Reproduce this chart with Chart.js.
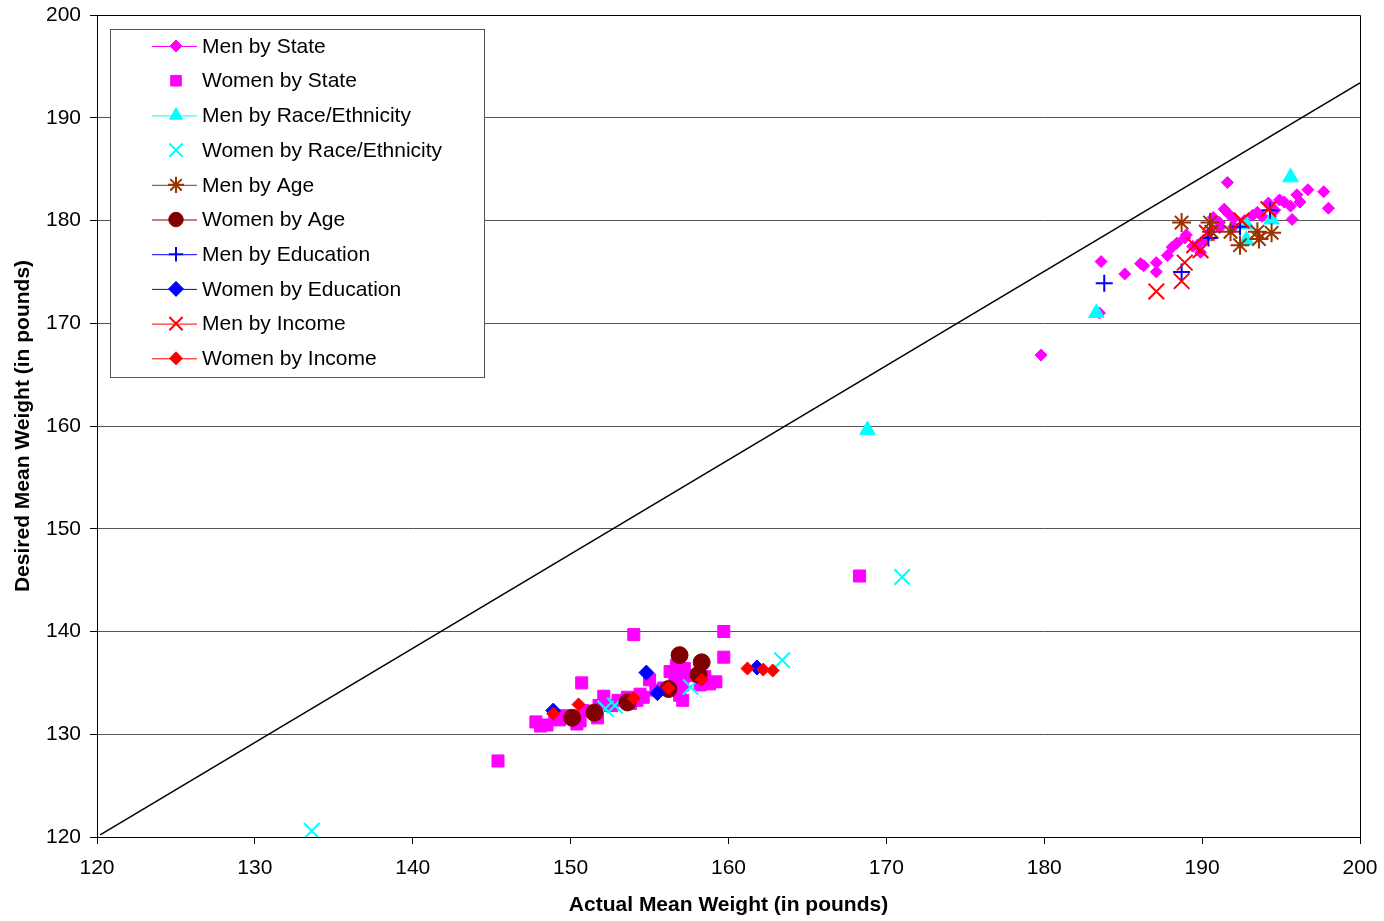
<!DOCTYPE html>
<html>
<head>
<meta charset="utf-8">
<script src="https://cdn.jsdelivr.net/npm/chart.js@4.4.1/dist/chart.umd.min.js"></script>
<style>
  html, body { margin: 0; padding: 0; background: #fff; }
  #wrap { width: 1384px; height: 921px; }
</style>
</head>
<body>
<div id="wrap"><canvas id="weightChart" width="1384" height="921"></canvas></div>
<script>
// du lieu doc tu hinh
const menStateX = [179.8, 183.6, 183.5, 185.1, 186.1, 186.3, 187.1, 187.1, 187.8, 188.1, 188.4, 189.0, 189.7, 189.9, 190.1, 190.5, 190.7, 191.1, 191.1, 191.4, 191.6, 192.0, 193.2, 193.5, 193.8, 194.2, 194.9, 195.2, 195.7, 196.0, 196.2, 196.7, 197.7, 198.0, 195.6, 194.6, 192.7, 192.0, 191.7, 188.9, 189.4];
const menStateY = [166.9, 176.0, 171.0, 174.8, 175.8, 175.6, 175.9, 175.0, 176.6, 177.4, 177.8, 178.6, 177.6, 176.9, 178.1, 178.9, 180.3, 179.8, 179.3, 181.1, 183.7, 179.4, 180.5, 180.8, 180.4, 181.7, 182.0, 181.8, 180.1, 182.5, 181.8, 183.0, 182.8, 181.2, 181.4, 181.0, 180.0, 180.2, 180.6, 178.3, 177.5];

const womenStateX = [145.4, 168.3, 154.0, 159.7, 159.7, 150.7, 147.8, 148.1, 148.5, 149.3, 149.6, 150.6, 150.8, 151.7, 151.8, 152.1, 152.6, 153.0, 153.6, 153.8, 154.2, 154.4, 154.6, 155.0, 155.4, 155.9, 156.3, 156.6, 156.7, 156.9, 157.2, 157.1, 157.1, 156.9, 157.6, 158.2, 158.5, 158.8, 159.2, 150.4, 149.0];
const womenStateY = [127.4, 145.4, 139.7, 140.0, 137.5, 135.0, 131.2, 130.8, 130.9, 131.4, 131.8, 131.3, 132.3, 131.6, 132.8, 133.7, 132.8, 133.3, 133.6, 133.0, 133.3, 133.9, 133.6, 135.3, 134.3, 134.5, 136.1, 135.3, 136.7, 135.7, 136.4, 134.8, 133.3, 133.8, 135.7, 134.8, 135.6, 134.9, 135.1, 131.0, 131.5];

const menRaceX = [168.8, 183.3, 195.6, 192.8, 192.8, 194.4];
const menRaceY = [159.6, 171.0, 184.2, 179.6, 178.1, 180.1];

const womenRaceX = [133.6, 152.2, 152.8, 157.6, 163.4, 171.0];
const womenRaceY = [120.6, 132.5, 132.8, 134.6, 137.2, 145.3];

const menAgeX = [188.7, 190.5, 190.6, 191.8, 192.4, 193.5, 193.6, 194.4];
const menAgeY = [179.8, 179.8, 178.9, 178.9, 177.6, 178.9, 178.2, 178.8];

const womenAgeX = [150.1, 151.5, 153.6, 156.2, 156.9, 158.3, 158.1];
const womenAgeY = [131.6, 132.1, 133.1, 134.4, 137.7, 137.0, 135.8];

const menEduX = [183.8, 188.7, 190.4, 192.4, 194.3];
const menEduY = [173.9, 175.0, 178.3, 179.4, 181.0];

const womenEduX = [148.9, 154.8, 155.5, 161.8];
const womenEduY = [132.3, 136.0, 134.0, 136.5];

const menIncomeX = [187.1, 188.7, 188.9, 189.5, 189.9, 190.3, 192.5, 194.2];
const menIncomeY = [173.1, 174.1, 175.9, 177.6, 177.1, 178.8, 180.0, 181.1];

const womenIncomeX = [148.9, 150.5, 154.0, 156.2, 158.3, 161.2, 162.2, 162.8];
const womenIncomeY = [132.0, 132.9, 133.5, 134.5, 135.3, 136.4, 136.3, 136.2];

const refLineX = [120.2, 200];
const refLineY = [120.2, 193.4];

const xTicks = [120, 130, 140, 150, 160, 170, 180, 190, 200];
const yTicks = [120, 130, 140, 150, 160, 170, 180, 190, 200];

const FONT = "'Liberation Sans', Arial, sans-serif";

function toPoints(xs, ys) {
    return xs.map((x, i) => ({ x: x, y: ys[i] }));
}

// cau hinh tung series: ten, mau, kieu diem, kich thuoc, co ve duong trong legend khong
const seriesDefs = [
    { label: 'Men by State', xs: menStateX, ys: menStateY, color: '#FF00FF', style: 'rectRot', r: 6, line: true },
    { label: 'Women by State', xs: womenStateX, ys: womenStateY, color: '#FF00FF', style: 'rect', r: 8.5, line: false },
    { label: 'Men by Race/Ethnicity', xs: menRaceX, ys: menRaceY, color: '#00FFFF', style: 'triangle', r: 9, line: true },
    { label: 'Women by Race/Ethnicity', xs: womenRaceX, ys: womenRaceY, color: '#00FFFF', style: 'crossRot', r: 11, line: false, border: 2 },
    { label: 'Men by Age', xs: menAgeX, ys: menAgeY, color: '#993300', style: 'star', r: 9.5, line: true, border: 2 },
    { label: 'Women by Age', xs: womenAgeX, ys: womenAgeY, color: '#800000', style: 'circle', r: 8.5, line: true },
    { label: 'Men by Education', xs: menEduX, ys: menEduY, color: '#0000FF', style: 'cross', r: 8.5, line: true, border: 2 },
    { label: 'Women by Education', xs: womenEduX, ys: womenEduY, color: '#0000FF', style: 'rectRot', r: 7.5, line: true },
    { label: 'Men by Income', xs: menIncomeX, ys: menIncomeY, color: '#FF0000', style: 'crossRot', r: 11, line: true, border: 2 },
    { label: 'Women by Income', xs: womenIncomeX, ys: womenIncomeY, color: '#FF0000', style: 'rectRot', r: 6.5, line: true }
];

const datasets = seriesDefs.map((s, i) => ({
    label: s.label,
    data: toPoints(s.xs, s.ys),
    showLine: false,
    order: 20 - i,
    pointStyle: s.style,
    pointRadius: s.r,
    pointHoverRadius: s.r,
    pointBackgroundColor: s.color,
    pointBorderColor: s.color,
    pointBorderWidth: s.border || 1,
    backgroundColor: s.color,
    borderColor: s.color
}));

// duong tham chieu
datasets.push({
    label: 'ref',
    data: toPoints(refLineX, refLineY),
    showLine: true,
    order: 50,
    borderColor: '#000',
    borderWidth: 1.5,
    pointRadius: 0,
    fill: false
});

// legend tu ve (duong + diem giong Excel)
const boxLegend = {
    id: 'boxLegend',
    afterDatasetsDraw(chart) {
        const ctx = chart.ctx;
        const left = 110, top = 29, w = 374, h = 348;
        ctx.save();
        ctx.fillStyle = '#fff';
        ctx.fillRect(left, top, w, h);
        ctx.strokeStyle = '#555';
        ctx.lineWidth = 1;
        ctx.strokeRect(left + 0.5, top + 0.5, w, h);

        ctx.font = '21px ' + FONT;
        ctx.textBaseline = 'middle';
        ctx.textAlign = 'left';
        seriesDefs.forEach((s, i) => {
            const y = 46 + i * 34.7;
            if (s.line) {
                ctx.strokeStyle = s.color;
                ctx.lineWidth = 1;
                ctx.beginPath();
                ctx.moveTo(152, y + 0.5);
                ctx.lineTo(197, y + 0.5);
                ctx.stroke();
            }
            ctx.fillStyle = s.color;
            ctx.strokeStyle = s.color;
            ctx.lineWidth = s.border || 1;
            Chart.helpers.drawPoint(ctx, {
                pointStyle: s.style,
                radius: s.style === 'rect' ? 7.5 : (s.r > 8 ? s.r * 0.85 : s.r),
                borderWidth: s.border || 1
            }, 176, y);
            ctx.fillStyle = '#000';
            ctx.fillText(s.label, 202, y + 1);
        });
        ctx.restore();
    }
};

// khung vien vung ve
const frame = {
    id: 'frame',
    afterDraw(chart) {
        const a = chart.chartArea;
        const ctx = chart.ctx;
        ctx.save();
        ctx.strokeStyle = '#000';
        ctx.lineWidth = 1;
        ctx.beginPath();
        ctx.moveTo(a.left, a.top + 0.5);
        ctx.lineTo(a.right + 0.5, a.top + 0.5);
        ctx.lineTo(a.right + 0.5, a.bottom);
        ctx.stroke();
        ctx.restore();
    }
};

const ctx = document.getElementById('weightChart').getContext('2d');
new Chart(ctx, {
    type: 'scatter',
    data: { datasets: datasets },
    options: {
        responsive: false,
        animation: false,
        layout: { padding: { left: 0, top: 15, right: 24, bottom: 0 } },
        plugins: {
            legend: { display: false },
            tooltip: { enabled: false }
        },
        scales: {
            x: {
                type: 'linear',
                min: 120,
                max: 200,
                afterBuildTicks: (scale) => { scale.ticks = xTicks.map(v => ({ value: v })); },
                afterFit: (scale) => {
                    scale.height = 84;
                    scale.paddingLeft = 0;
                    scale.paddingRight = 0;
                },
                grid: { display: true, drawOnChartArea: false, drawTicks: true, tickLength: 7, tickColor: '#000' },
                border: { color: '#000', width: 1 },
                ticks: { color: '#000', font: { family: FONT, size: 21 }, padding: 12, maxRotation: 0 },
                title: {
                    display: true,
                    text: 'Actual Mean Weight (in pounds)',
                    color: '#000',
                    font: { family: FONT, size: 21, weight: 'bold' },
                    padding: { top: 0, bottom: 3 }
                }
            },
            y: {
                type: 'linear',
                min: 120,
                max: 200,
                afterBuildTicks: (scale) => { scale.ticks = yTicks.map(v => ({ value: v })); },
                afterFit: (scale) => {
                    scale.width = 97;
                    scale.paddingTop = 0;
                    scale.paddingBottom = 0;
                },
                grid: { color: '#555', lineWidth: 1, drawTicks: true, tickLength: 7, tickColor: '#000' },
                border: { color: '#000', width: 1 },
                ticks: { color: '#000', font: { family: FONT, size: 21 }, padding: 9 },
                title: {
                    display: true,
                    text: 'Desired Mean Weight (in pounds)',
                    color: '#000',
                    font: { family: FONT, size: 21, weight: 'bold' },
                    padding: { top: 11, bottom: 0 }
                }
            }
        }
    },
    plugins: [boxLegend, frame]
});
</script>
</body>
</html>
